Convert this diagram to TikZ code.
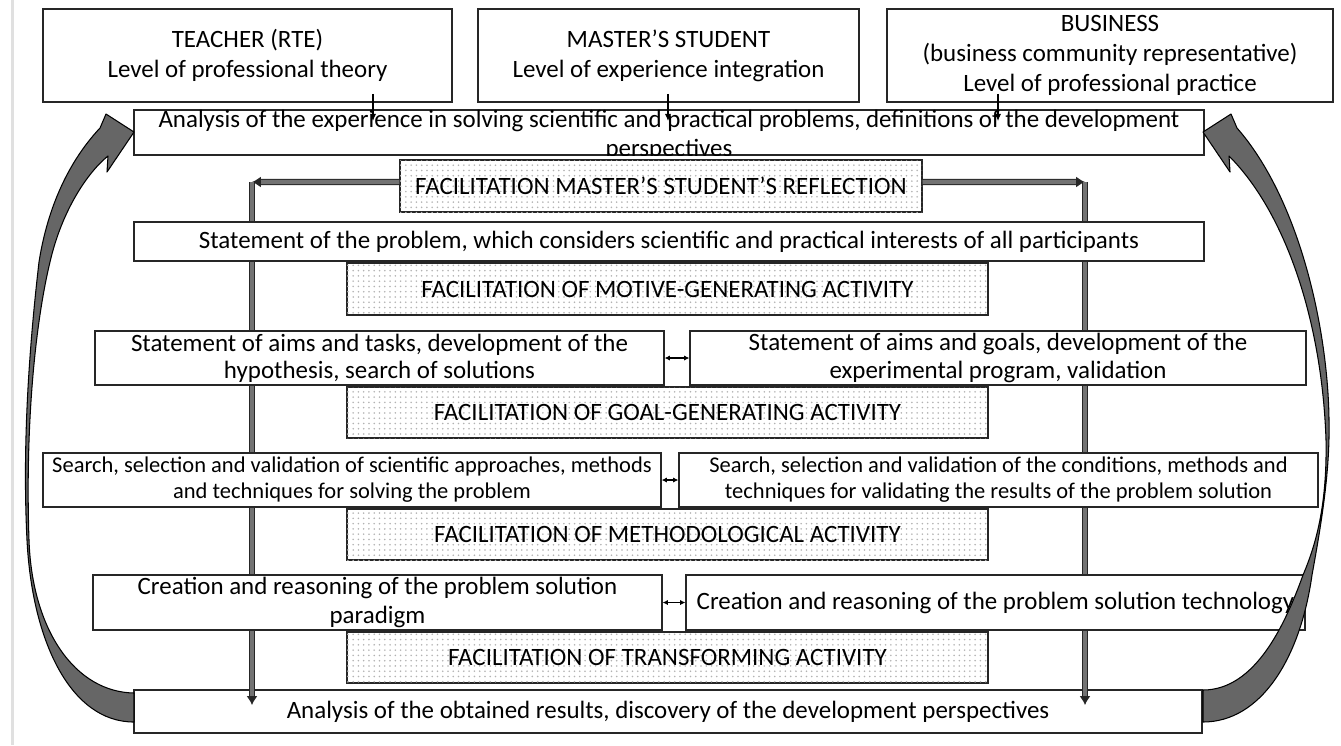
\documentclass[tikz,border=0pt]{standalone}
\usepackage{fontspec}
\setmainfont{Carlito}
\usetikzlibrary{patterns}
\usetikzlibrary{arrows.meta}

\tikzset{
    box/.style={draw=black!85, line width=0.7pt, fill=white, align=center, inner sep=0pt, font=\fontsize{14.2}{15.5}\selectfont},
    topbox/.style={box, font=\fontsize{14.2}{17}\selectfont},
    smallbox/.style={box, font=\fontsize{12.8}{14.8}\selectfont},
    facil/.style={box, postaction={pattern=dots, pattern color=black!30}},
    sz/.style 2 args={minimum width=#1*0.02cm, minimum height=#2*0.02cm},
    track/.style={draw=black!85, line width=0.6pt, double=black!55, double distance=2.4pt},
    thinarrow/.style={line width=0.6pt, -{Latex[length=4pt,width=3.5pt]}},
    linkarrow/.style={line width=0.6pt, {Latex[length=3pt,width=3pt]}-{Latex[length=3pt,width=3pt]}},
    bigarrow/.style={draw=black, line width=0.6pt, fill=black!60, line join=round}
}

\begin{document}
\begin{tikzpicture}[x=0.02cm, y=-0.02cm]
    \useasboundingbox (0,0) rectangle (1341,745);
    % Page edge on the left
    \fill[black!12] (11,0) rectangle (14,745);

    % Bottom box and the reflection box (the tracks run over the bottom box)
    \node[box, sz={1068}{43}] (results) at (668,711.5) {Analysis of the obtained results, discovery of the development perspectives};
    \node[facil, sz={522}{52}] (reflect) at (661,186) {FACILITATION MASTER’S STUDENT’S REFLECTION};

    % Tracks from the reflection box down to the results
    \coordinate (cornerL) at (252,182);
    \coordinate (cornerR) at (1085,182);
    \coordinate (endL) at (252,705);
    \coordinate (endR) at (1085,705);
    \draw[track, -{Latex[length=5pt,width=6pt]}] ([yshift=0.08cm]reflect.west) -- (cornerL);
    \draw[track, -{Latex[length=5pt,width=6pt]}] (cornerL) -- (endL);
    \draw[track, -{Latex[length=5pt,width=6pt]}] ([yshift=0.08cm]reflect.east) -- (cornerR);
    \draw[track, -{Latex[length=5pt,width=6pt]}] (cornerR) -- (endR);

    % The three participants
    \node[topbox, sz={409}{93}] (teacher) at (247.5,55.5) {TEACHER (RTE)\\Level of professional theory};
    \node[topbox, sz={381}{93}] (student) at (668.5,55.5) {MASTER’S STUDENT\\Level of experience integration};
    \node[topbox, sz={446}{93}] (business) at (1110,55.5) {BUSINESS\\(business community representative)\\Level of professional practice};

    % Analysis of the experience (text cut by the box)
    \node[box, sz={1070}{45}] (experience) at (669,132.5) {};
    \begin{scope}
        \clip (experience.north west) rectangle (experience.south east);
        \node[anchor=north, inner sep=0pt, align=center, font=\fontsize{14.2}{16.5}\selectfont] (experienceText) at ([yshift=-0.5pt]experience.north) {Analysis of the experience in solving scientific and practical problems, definitions of the development\\perspectives};
    \end{scope}

    % Problem statement and motive-generating activity
    \node[box, sz={1070}{39}] (problem) at (669,241.5) {Statement of the problem, which considers scientific and practical interests of all participants};
    \node[facil, sz={641}{52}] (motive) at (667.5,289) {FACILITATION OF MOTIVE-GENERATING ACTIVITY};

    % Aims
    \node[box, sz={569}{54}] (aimsL) at (379.5,358) {Statement of aims and tasks, development of the\\hypothesis, search of solutions};
    \node[box, sz={616}{54}] (aimsR) at (998,358) {Statement of aims and goals, development of the\\experimental program, validation};
    \node[facil, sz={641}{51}] (goal) at (667.5,412.5) {FACILITATION OF GOAL-GENERATING ACTIVITY};

    % Methods
    \node[smallbox, sz={618}{54}] (searchL) at (352,480) {Search, selection and validation of scientific approaches, methods\\and techniques for solving the problem};
    \node[smallbox, sz={639}{54}] (searchR) at (998.5,480) {Search, selection and validation of the conditions, methods and\\techniques for validating the results of the problem solution};
    \node[facil, sz={641}{51}] (method) at (667.5,534.5) {FACILITATION OF METHODOLOGICAL ACTIVITY};

    % Creation
    \node[box, sz={569}{55}, font=\fontsize{14.2}{17}\selectfont] (createL) at (377.5,602.5) {Creation and reasoning of the problem solution\\paradigm};
    \node[box, sz={619}{55}] (createR) at (995.5,602.5) {Creation and reasoning of the problem solution technology};
    \node[facil, sz={641}{51}] (transform) at (667.5,657.5) {FACILITATION OF TRANSFORMING ACTIVITY};

    % Small arrows from the participants
    \coordinate (tipT) at (373,121);
    \coordinate (tipS) at (668,121);
    \coordinate (tipB) at (998,121);
    \draw[thinarrow] ([yshift=5pt]teacher.south -| tipT) -- (tipT);
    \draw[thinarrow] ([yshift=5pt]student.south -| tipS) -- (tipS);
    \draw[thinarrow] ([yshift=5pt]business.south -| tipB) -- (tipB);

    % Links between the paired boxes
    \draw[linkarrow] (aimsL.east) -- (aimsR.west);
    \draw[linkarrow] (searchL.east) -- (searchR.west);
    \draw[linkarrow] (createL.east) -- (createR.west);

    % Big curved arrows back to the top
    \draw[bigarrow] (134,722) .. controls (70,722) and (32,640) .. (27,540)
        .. controls (22,440) and (30,340) .. (39,262)
        .. controls (48,205) and (70,160) .. (100,128)
        -- (106,114) -- (134,132) -- (107,172) -- (108,156)
        .. controls (88,172) and (62,210) .. (50,262)
        .. controls (36,320) and (25,420) .. (29,540)
        .. controls (32,630) and (75,692) .. (134,693) -- cycle;
    \draw[bigarrow] (1203,722) .. controls (1260,722) and (1300,660) .. (1312,575)
        .. controls (1322,520) and (1330,470) .. (1329,420)
        .. controls (1328,330) and (1300,200) .. (1237,128)
        -- (1231,114) -- (1203,132) -- (1230,172) -- (1229,156)
        .. controls (1285,212) and (1322,320) .. (1326,440)
        .. controls (1327,500) and (1318,540) .. (1303,575)
        .. controls (1285,625) and (1255,690) .. (1203,690) -- cycle;
\end{tikzpicture}
\end{document}
